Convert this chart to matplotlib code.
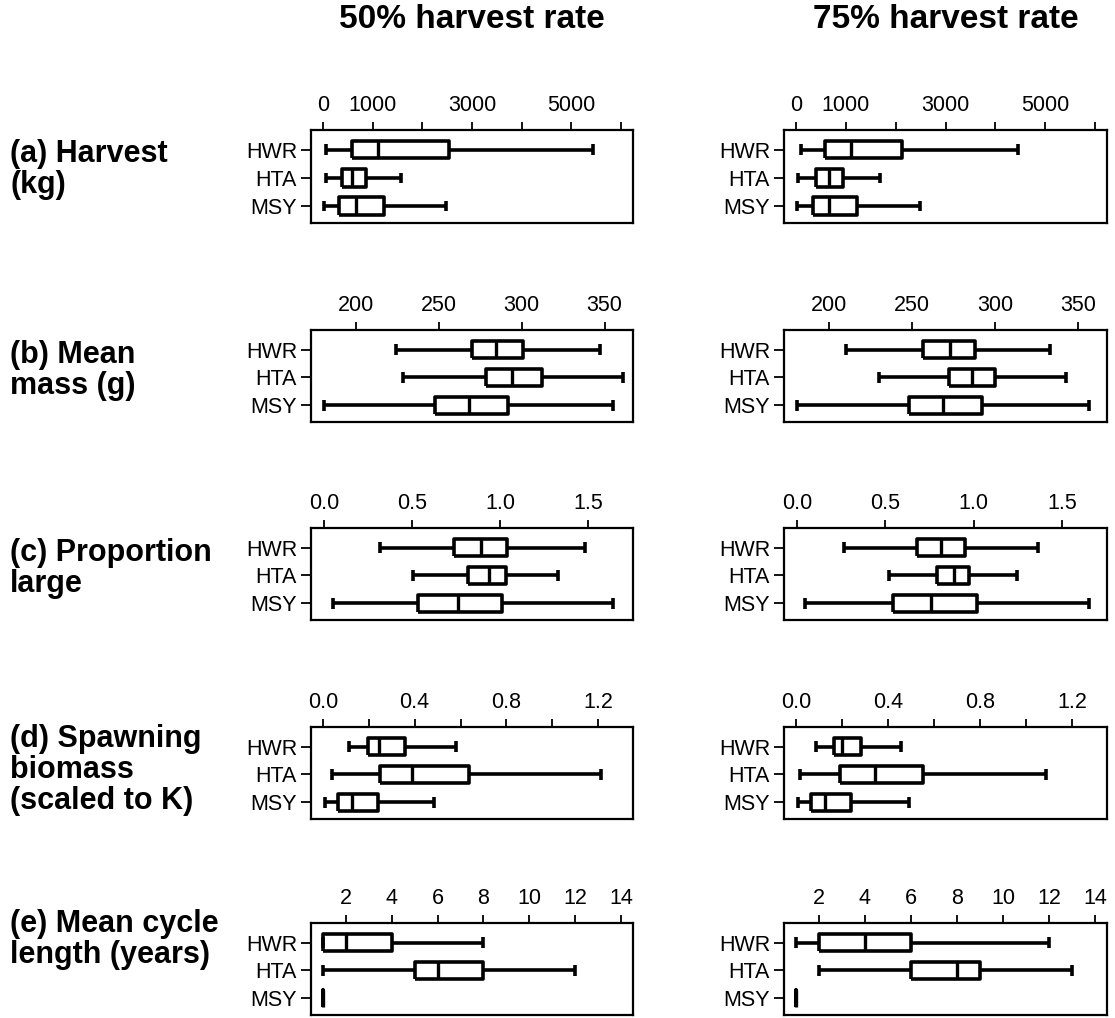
import numpy as np
import matplotlib.pyplot as plt

plt.rcParams['font.family'] = ['Liberation Sans', 'DejaVu Sans']

groups = ['HWR', 'HTA', 'MSY']
columns = ['50% harvest rate', '75% harvest rate']

# five-number summaries per group: whisker low, Q1, median, Q3, whisker high
harvest_50 = [[60, 580, 1100, 2540, 5430],
              [60, 380, 580, 870, 1570],
              [20, 320, 660, 1230, 2470]]
harvest_75 = [[107, 574, 1110, 2125, 4460],
              [40, 407, 668, 935, 1690],
              [20, 334, 668, 1222, 2490]]
mass_50 = [[224, 270, 284.5, 300.7, 347.3],
           [228.6, 278.5, 294, 312.5, 361],
           [180.7, 247.7, 268.4, 291.6, 355.4]]
mass_75 = [[210.3, 256.3, 272.6, 288, 332.9],
           [229.7, 272, 286.1, 299.7, 342.3],
           [180.5, 247.8, 268.3, 292, 356.4]]
large_50 = [[0.318, 0.739, 0.891, 1.037, 1.481],
            [0.503, 0.819, 0.938, 1.031, 1.33],
            [0.049, 0.532, 0.759, 1.012, 1.642]]
large_75 = [[0.265, 0.681, 0.815, 0.951, 1.364],
            [0.522, 0.794, 0.889, 0.976, 1.245],
            [0.047, 0.541, 0.758, 1.018, 1.651]]
spawn_50 = [[0.114, 0.198, 0.245, 0.357, 0.581],
            [0.038, 0.249, 0.388, 0.635, 1.212],
            [0.009, 0.067, 0.128, 0.238, 0.486]]
spawn_75 = [[0.087, 0.164, 0.199, 0.284, 0.458],
            [0.019, 0.193, 0.345, 0.552, 1.087],
            [0.007, 0.065, 0.127, 0.24, 0.491]]
cycle_50 = [[1, 1, 2, 4, 8],
            [1, 5, 6, 8, 12],
            [1, 1, 1, 1, 1]]
cycle_75 = [[1, 2, 4, 6, 12],
            [2, 6, 8, 9, 13],
            [1, 1, 1, 1, 1]]

row_data = [(harvest_50, harvest_75), (mass_50, mass_75), (large_50, large_75),
            (spawn_50, spawn_75), (cycle_50, cycle_75)]

row_labels = [['(a) Harvest', '(kg)'],
              ['(b) Mean', 'mass (g)'],
              ['(c) Proportion', 'large'],
              ['(d) Spawning', 'biomass', '(scaled to K)'],
              ['(e) Mean cycle', 'length (years)']]

xticks = [[0, 1000, 2000, 3000, 4000, 5000, 6000],
          [200, 250, 300, 350],
          [0.0, 0.5, 1.0, 1.5],
          [0.0, 0.2, 0.4, 0.6, 0.8, 1.0, 1.2],
          [2, 4, 6, 8, 10, 12, 14]]
xticklabels = [['0', '1000', '', '3000', '', '5000', ''],
               ['200', '250', '300', '350'],
               ['0.0', '0.5', '1.0', '1.5'],
               ['0.0', '', '0.4', '', '0.8', '', '1.2'],
               ['2', '4', '6', '8', '10', '12', '14']]
xlims = [(-240, 6240), (172.8, 367.2), (-0.074, 1.755), (-0.052, 1.352), (0.48, 14.52)]

# layout in pixels
W, H = 1115, 1018
col_x = [(311, 633), (784, 1107)]
row_y = [(130, 223), (330, 422), (528, 620), (727, 819), (923, 1015)]
label_base = [162, 363, 561, 747, 932]

fig = plt.figure(figsize=(W / 100, H / 100), dpi=100)

for r in range(5):
    for c in range(2):
        x0, x1 = col_x[c]
        y0, y1 = row_y[r]
        ax = fig.add_axes([x0 / W, 1 - y1 / H, (x1 - x0) / W, (y1 - y0) / H])
        stats = []
        for g, v in zip(groups, row_data[r][c]):
            stats.append(dict(label=g, whislo=v[0], q1=v[1], med=v[2],
                              q3=v[3], whishi=v[4], fliers=[]))
        lp = dict(color='black', linewidth=2.6, solid_joinstyle='round',
                  solid_capstyle='butt')
        ax.bxp(stats, positions=[3, 2, 1], widths=0.62, capwidths=0.38,
               orientation='horizontal', showfliers=False,
               boxprops=lp, whiskerprops=lp, capprops=lp,
               medianprops=dict(color='black', linewidth=2.4))
        ax.set_ylim(0.4, 3.7)
        ax.set_xlim(*xlims[r])
        ax.xaxis.tick_top()
        ax.set_xticks(xticks[r])
        ax.set_xticklabels(xticklabels[r])
        ax.set_yticks([3, 2, 1])
        ax.set_yticklabels(groups)
        ax.tick_params(axis='x', direction='out', length=6, width=1.3,
                       pad=4, labelsize=15.5)
        ax.tick_params(axis='y', direction='out', length=7, width=1.3,
                       pad=3, labelsize=15.5)
        for s in ax.spines.values():
            s.set_linewidth(1.6)

for c in range(2):
    x0, x1 = col_x[c]
    fig.text((x0 + x1) / 2 / W, 1 - 19 / H, columns[c], ha='center',
             va='center', fontsize=24, fontweight='bold')

for r in range(5):
    for i, line in enumerate(row_labels[r]):
        fig.text(10 / W, 1 - (label_base[r] + 31 * i) / H, line, ha='left',
                 va='baseline', fontsize=22, fontweight='bold')

fig.savefig('out.png', dpi=100)
